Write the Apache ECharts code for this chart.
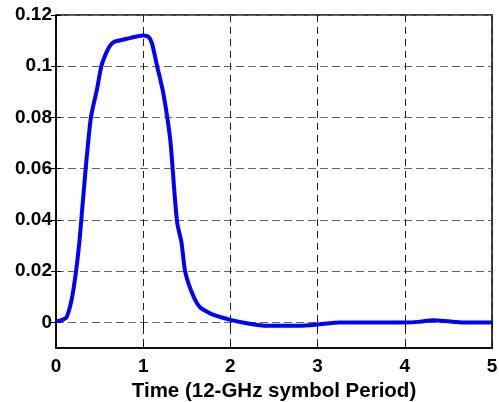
<!DOCTYPE html>
<html>
<head>
<meta charset="utf-8">
<script src="https://cdn.jsdelivr.net/npm/echarts@6/dist/echarts.min.js"></script>
<style>
  html, body { margin: 0; padding: 0; background: #fff; }
  #chart { width: 499px; height: 402px; }
</style>
</head>
<body>
<div id="chart"></div>
<script>
// Pulse response sampled over five symbol periods
const timeValues = [0, 0.05, 0.12, 0.18, 0.23, 0.27, 0.31, 0.35, 0.40, 0.47, 0.52, 0.58, 0.63, 0.68, 0.81, 0.925, 1.00, 1.06, 1.10, 1.16, 1.23, 1.31, 1.36, 1.39, 1.44, 1.48, 1.56, 1.65, 1.80, 2.00, 2.22, 2.42, 2.80, 3.00, 3.26, 3.60, 4.00, 4.15, 4.33, 4.50, 4.67, 5.00];
const amplitude = [0.0005, 0.0007, 0.002, 0.009, 0.020, 0.032, 0.048, 0.0636, 0.080, 0.091, 0.100, 0.1055, 0.1085, 0.1097, 0.1107, 0.1116, 0.112, 0.1115, 0.109, 0.100, 0.0896, 0.0714, 0.050, 0.0388, 0.031, 0.020, 0.0115, 0.006, 0.003, 0.001, -0.0005, -0.0013, -0.0013, -0.0008, 0, 0, 0, 0.0002, 0.0008, 0.0004, 0, 0];
const yTickValues = [0, 0.02, 0.04, 0.06, 0.08, 0.1, 0.12];
const yTickLabels = ['0', '0.02', '0.04', '0.06', '0.08', '0.1', '0.12'];
const xAxisTitle = 'Time (12-GHz symbol Period)';

const points = timeValues.map((t, i) => [t, amplitude[i]]);
const fontFamily = '"Liberation Sans", Arial, sans-serif';
const yLabelFor = v => {
  const i = yTickValues.findIndex(t => Math.abs(t - v) < 1e-9);
  return i < 0 ? '' : yTickLabels[i];
};

const chart = echarts.init(document.getElementById('chart'), null, { renderer: 'canvas' });
chart.setOption({
  animation: false,
  backgroundColor: '#ffffff',
  grid: {
    left: 56, right: 7, top: 15, bottom: 54,
    outerBoundsMode: 'none', containLabel: false,
    show: true, borderColor: '#000', borderWidth: 1.5, backgroundColor: 'transparent'
  },
  xAxis: [{
    type: 'value', min: 0, max: 5, interval: 1,
    name: xAxisTitle, nameLocation: 'middle', nameGap: 30,
    nameTextStyle: { color: '#000', fontSize: 20.5, fontWeight: 'bold', fontFamily },
    axisLine: { show: true, onZero: false, lineStyle: { color: '#000', width: 1.5 } },
    axisTick: { show: true, inside: true, length: 5, lineStyle: { color: '#000' } },
    axisLabel: { color: '#000', fontSize: 19, fontWeight: 'bold', fontFamily, margin: 9 },
    splitLine: { show: true, lineStyle: { color: '#222', type: [7, 5], width: 1 } }
  }, {
    type: 'value', min: 0, max: 5, interval: 1, position: 'top',
    axisLine: { show: false },
    axisTick: { show: true, inside: true, length: 5, lineStyle: { color: '#000' } },
    axisLabel: { show: false }, splitLine: { show: false }
  }],
  yAxis: [{
    type: 'value', min: -0.01, max: 0.12,
    axisLine: { show: true, onZero: false, lineStyle: { color: '#000', width: 1.5 } },
    axisTick: { show: true, inside: true, length: 5, customValues: yTickValues, lineStyle: { color: '#000' } },
    axisLabel: {
      color: '#000', fontSize: 19, fontWeight: 'bold', fontFamily, margin: 4,
      customValues: yTickValues, formatter: yLabelFor
    },
    splitLine: { show: true, lineStyle: { color: '#666', type: [8, 4], width: 1 } }
  }, {
    type: 'value', min: -0.01, max: 0.12, position: 'right',
    axisLine: { show: false },
    axisTick: { show: true, inside: true, length: 5, customValues: yTickValues, lineStyle: { color: '#000' } },
    axisLabel: { show: false }, splitLine: { show: false }
  }],
  series: [{
    type: 'line',
    data: points,
    showSymbol: false,
    smooth: 0.2,
    lineStyle: { color: '#0000ff', width: 4 },
    z: 5
  }]
});
</script>
</body>
</html>
